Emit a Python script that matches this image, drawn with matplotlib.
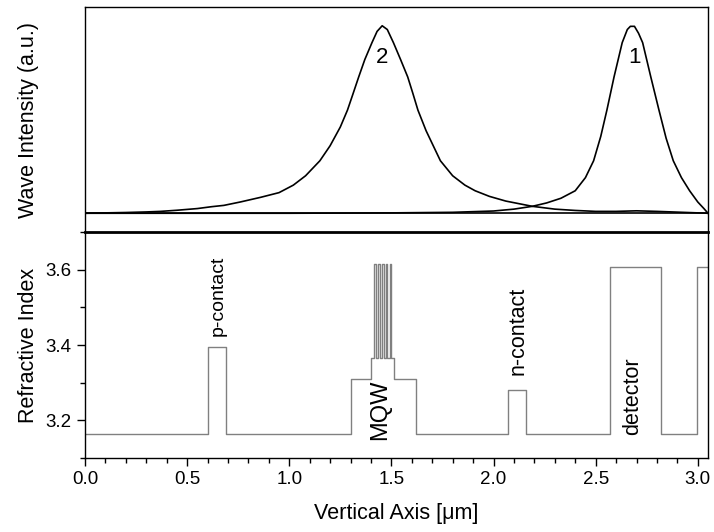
import numpy as np
import matplotlib.pyplot as plt
from matplotlib.ticker import MultipleLocator

plt.rcParams['font.family'] = ['Liberation Sans', 'DejaVu Sans']

# mode 1 and mode 2 intensity profiles
x1 = [0.0, 1.0, 1.5, 1.8, 2.0, 2.1, 2.19, 2.26, 2.33, 2.40, 2.45, 2.49, 2.525,
      2.555, 2.59, 2.63, 2.655, 2.67, 2.69, 2.71, 2.73, 2.77, 2.81, 2.845, 2.88,
      2.92, 2.96, 3.0, 3.03, 3.05]
y1 = [0.0, 0.0, 0.002, 0.005, 0.012, 0.022, 0.037, 0.055, 0.08, 0.12, 0.19, 0.28, 0.41,
      0.55, 0.727, 0.91, 0.98, 0.997, 0.997, 0.96, 0.91, 0.727, 0.55, 0.40, 0.28,
      0.19, 0.12, 0.06, 0.025, 0.0]

x2 = [0.0, 0.1, 0.2, 0.3, 0.37, 0.45, 0.55, 0.62, 0.68, 0.76, 0.86, 0.95, 1.02,
      1.08, 1.15, 1.2, 1.25, 1.285, 1.31, 1.34, 1.37, 1.405, 1.43, 1.455, 1.48,
      1.51, 1.545, 1.58, 1.605, 1.63, 1.67, 1.74, 1.8, 1.86, 1.91, 1.98, 2.06,
      2.19, 2.3, 2.4, 2.5, 2.6, 2.7, 2.8, 2.9, 3.05]
y2 = [0.0, 0.002, 0.004, 0.007, 0.01, 0.016, 0.025, 0.035, 0.042, 0.06, 0.085, 0.11, 0.15,
      0.2, 0.28, 0.36, 0.46, 0.55, 0.63, 0.727, 0.82, 0.91, 0.97, 1.0, 0.98,
      0.91, 0.82, 0.727, 0.64, 0.55, 0.44, 0.28, 0.2, 0.15, 0.12, 0.09, 0.065,
      0.037, 0.022, 0.015, 0.01, 0.01, 0.013, 0.01, 0.006, 0.0]

# refractive index layers (start positions and index values)
layer_x = [0.0, 0.60, 0.69, 1.30, 1.40, 1.515, 1.62, 2.07, 2.16, 2.57, 2.82, 2.995]
layer_n = [3.165, 3.395, 3.165, 3.31, 3.365, 3.31, 3.165, 3.28, 3.165, 3.607, 3.165, 3.607]
x_end = 3.05

# quantum wells inside the MQW barrier block
well_edges = [1.417, 1.426, 1.435, 1.445, 1.454, 1.463, 1.472, 1.481, 1.491, 1.500]
n_barrier = 3.365
n_well = 3.615

labels = ['p-contact', 'MQW', 'n-contact', 'detector']
label_x = [0.65, 1.445, 2.12, 2.68]
label_y = [3.425, 3.227, 3.32, 3.264]
label_va = ['bottom', 'center', 'bottom', 'center']
label_size = [14, 17, 15.5, 15.5]

fig = plt.figure(figsize=(7.14, 5.32), dpi=100)
ax1 = fig.add_axes([0.119, 0.5639, 0.8726, 0.4229])
ax2 = fig.add_axes([0.119, 0.1391, 0.8726, 0.4248])

# top panel
ax1.plot(x1, y1, color='black', lw=1.2)
ax1.plot(x2, y2, color='black', lw=1.2)
ax1.axhline(0, color='black', lw=1.2)
ax1.set_xlim(0, x_end)
ax1.set_ylim(-0.1, 1.1)
ax1.set_xticks([])
ax1.set_yticks([])
ax1.text(1.455, 0.83, '2', fontsize=16, ha='center', va='center')
ax1.text(2.69, 0.83, '1', fontsize=16, ha='center', va='center')
ax1.set_ylabel('Wave Intensity (a.u.)', fontsize=15.5)
ax1.yaxis.set_label_coords(-0.074, 0.5)
for s in ax1.spines.values():
    s.set_linewidth(1.0)
ax1.spines['bottom'].set_visible(False)

# bottom panel: build the step profile
px, pn = [], []
for i in range(len(layer_x)):
    if layer_x[i] == 1.40:
        px.append(1.40)
        pn.append(n_barrier)
        for j, e in enumerate(well_edges):
            px.append(e)
            pn.append(n_well if j % 2 == 0 else n_barrier)
    else:
        px.append(layer_x[i])
        pn.append(layer_n[i])
px.append(x_end)
pn.append(pn[-1])
ax2.step(px, pn, where='post', color='#808080', lw=1.0)

for t, tx, ty, va, fs in zip(labels, label_x, label_y, label_va, label_size):
    ax2.text(tx, ty, t, rotation=90, fontsize=fs, ha='center', va=va)

ax2.set_xlim(0, x_end)
ax2.set_ylim(3.1, 3.7)
ax2.xaxis.set_major_locator(MultipleLocator(0.5))
ax2.xaxis.set_minor_locator(MultipleLocator(0.1))
ax2.yaxis.set_minor_locator(MultipleLocator(0.1))
ax2.set_yticks([3.2, 3.4, 3.6])
ax2.tick_params(which='major', direction='out', length=6, width=1, labelsize=13.5)
ax2.tick_params(which='minor', direction='out', length=3.5, width=1)
ax2.xaxis.set_major_formatter(plt.FormatStrFormatter('%.1f'))
ax2.set_xlabel('Vertical Axis [\u03bcm]', fontsize=15.5)
ax2.xaxis.set_label_coords(0.5, -0.2)
ax2.set_ylabel('Refractive Index', fontsize=15.5)
ax2.yaxis.set_label_coords(-0.074, 0.5)
for s in ax2.spines.values():
    s.set_linewidth(1.0)
ax2.spines['top'].set_linewidth(2.0)

fig.savefig('out.png', dpi=100)
